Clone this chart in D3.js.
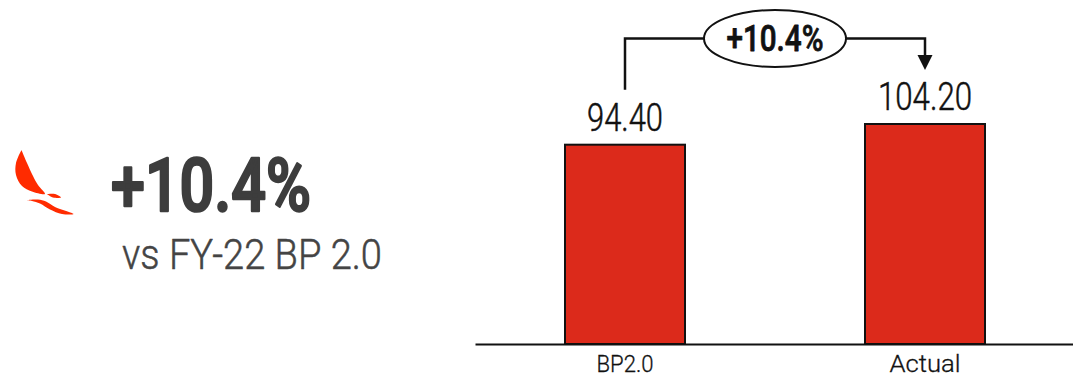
<!DOCTYPE html>
<html>
<head>
<meta charset="utf-8">
<script src="https://cdn.jsdelivr.net/npm/d3@7/dist/d3.min.js"></script>
<style>
  html, body { margin: 0; padding: 0; background: #fff; }
  svg { display: block; }
  text { font-family: Roboto, "Open Sans", sans-serif; }
</style>
</head>
<body>
<div id="chart"></div>
<script>
// Plan vs actual comparison
const categories = ["BP2.0", "Actual"];
const values = [94.40, 104.20];
const valueLabels = ["94.40", "104.20"];
const changeLabel = "+10.4%";
const subtitle = "vs FY-22 BP 2.0";

const width = 1073, height = 378;
const baseline = 344;

const svg = d3.select("#chart").append("svg")
  .attr("width", width).attr("height", height);

const x = d3.scaleBand().domain(categories).range([475, 1075])
  .paddingInner(0.6).paddingOuter(0.3);
const y = d3.scaleLinear().domain([0, d3.max(values)]).range([baseline, 124]);

// Helper: real text squeezed to a measured width, with an outline to even out the stroke weight
function label(g, str, px, py, size, w, weight, fill, anchor, outline) {
  return g.append("text")
    .attr("x", px).attr("y", py)
    .attr("font-size", size).attr("font-weight", weight)
    .attr("fill", fill).attr("text-anchor", anchor || "middle")
    .attr("stroke", fill).attr("stroke-width", outline || 0)
    .attr("stroke-linejoin", "round")
    .attr("textLength", w).attr("lengthAdjust", "spacingAndGlyphs")
    .text(str);
}

// Bars
svg.append("g").selectAll("rect").data(categories).join("rect")
  .attr("x", d => x(d))
  .attr("y", (d, i) => y(values[i]))
  .attr("width", x.bandwidth())
  .attr("height", (d, i) => baseline - y(values[i]))
  .attr("fill", "#dc2a1b")
  .attr("stroke", "#111")
  .attr("stroke-width", 2);

// Baseline and category labels
const axis = svg.append("g").attr("transform", `translate(0,${baseline})`)
  .call(d3.axisBottom(x).tickSize(0).tickPadding(11));
axis.select(".domain").attr("stroke", "#111").attr("stroke-width", 2);
axis.selectAll(".tick text")
  .attr("font-size", 24).attr("font-weight", 300).attr("fill", "#111")
  .attr("stroke", "#111").attr("stroke-width", 0.3)
  .attr("font-family", "Roboto")
  .attr("textLength", (d, i) => [57, 71][i])
  .attr("lengthAdjust", "spacingAndGlyphs");

// Value labels above the bars
const valueGroup = svg.append("g");
categories.forEach((c, i) => {
  label(valueGroup, valueLabels[i], x(c) + x.bandwidth() / 2, y(values[i]) - 14, 38,
    [76, 94][i], 300, "#111", "middle", 0.5);
});

// Connector between the two value labels, with the change in an ellipse
const cx0 = x(categories[0]) + x.bandwidth() / 2;
const cx1 = x(categories[1]) + x.bandwidth() / 2;
const bracketY = 38.5;
const ellipseX = 775;

const conn = svg.append("g");
conn.append("path")
  .attr("d", d3.line()([[cx0, y(values[0]) - 55], [cx0, bracketY], [cx1, bracketY], [cx1, 56]]))
  .attr("fill", "none").attr("stroke", "#111").attr("stroke-width", 2.5);
conn.append("path")
  .attr("d", d3.line()([[cx1 - 7.5, 55], [cx1 + 7.5, 55], [cx1, 70]]) + "Z")
  .attr("fill", "#111");
conn.append("ellipse")
  .attr("cx", ellipseX).attr("cy", bracketY).attr("rx", 71).attr("ry", 28.5)
  .attr("fill", "#fff").attr("stroke", "#111").attr("stroke-width", 2);
label(conn, changeLabel, ellipseX, 50.5, 37, 97, 500, "#111", "middle", 0.8);

// Airline-style wing mark
const mark = svg.append("g").attr("fill", "#ff2b00");
const curve = d3.line().curve(d3.curveCatmullRom.alpha(0.5));
mark.append("path").attr("d",
  curve([[21.5, 150], [16, 163], [16, 175], [22, 186], [32, 191.5], [45, 194], [38, 185], [33, 176], [27, 163], [21.5, 150]]) + "Z");
mark.append("path").attr("d",
  curve([[47, 194], [55, 194], [61, 197.5], [53, 197.5], [47, 194]]) + "Z");
mark.append("path").attr("d",
  curve([[26.5, 200], [38, 199.5], [46, 201.5], [55, 207], [73.5, 214], [62, 214], [50, 209.5], [40, 203.5], [32, 201], [26.5, 200]]) + "Z");

// Headline figures
const head = svg.append("g");
label(head, changeLabel, 111, 211, 74, 200, 500, "#3d3d3d", "start", 2.5);
label(head, subtitle, 122, 269, 43, 260, 300, "#444", "start", 0.5);
</script>
</body>
</html>
